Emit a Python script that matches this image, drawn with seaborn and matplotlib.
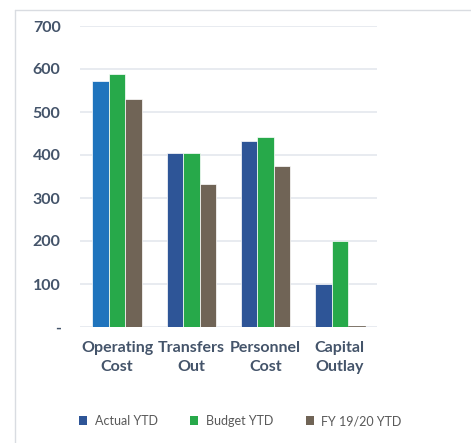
import pandas as pd
import matplotlib.pyplot as plt
import seaborn as sns
from matplotlib.patches import Patch
from matplotlib.lines import Line2D

categories = ["Operating\nCost", "Transfers\nOut", "Personnel\nCost", "Capital\nOutlay"]
series = ["Actual YTD", "Budget YTD", "FY 19/20 YTD"]
actual_ytd = [572, 405, 433, 101]
budget_ytd = [588, 405, 443, 201]
fy1920_ytd = [530, 332, 375, 3]
y_ticks = [0, 100, 200, 300, 400, 500, 600, 700]
y_labels = ["-", "100", "200", "300", "400", "500", "600", "700"]

colors = ["#2E5597", "#27A94A", "#706456"]
first_bar_color = "#1F74BD"
text_color = "#44546A"

df = pd.DataFrame({
    "category": categories * 3,
    "series": [s for s in series for _ in categories],
    "value": actual_ytd + budget_ytd + fy1920_ytd,
})

sns.set_theme(style="white")
plt.rcParams["font.family"] = ["Lato", "DejaVu Sans"]

fig = plt.figure(figsize=(4.71, 4.43), dpi=100)
ax = fig.add_axes([80 / 471, 1 - 327 / 443, 297 / 471, 301 / 443])

sns.barplot(data=df, x="category", y="value", hue="series", palette=colors,
            saturation=1, width=0.67, edgecolor="white", linewidth=0.5,
            legend=False, ax=ax)

# the first actual bar is drawn in a lighter blue in the original
ax.patches[0].set_facecolor(first_bar_color)
# keep the very small bar visible
for p in ax.patches:
    if p.get_height() < 10:
        p.set_edgecolor(p.get_facecolor())

ax.set_ylim(0, 700)
ax.set_yticks(y_ticks)
ax.set_yticklabels(y_labels)
ax.yaxis.grid(True, color="#E4E8EE", linewidth=1.2)
ax.set_axisbelow(True)
for s in ax.spines.values():
    s.set_visible(False)
ax.set_xlabel("")
ax.set_ylabel("")
ax.tick_params(axis="both", length=0, colors=text_color)
ax.tick_params(axis="y", pad=14)
ax.tick_params(axis="x", pad=10)
for lab in ax.get_yticklabels():
    lab.set_fontweight("bold")
    lab.set_fontsize(11.5)
for lab in ax.get_xticklabels():
    lab.set_fontweight("bold")
    lab.set_fontsize(11.5)
    lab.set_linespacing(1.45)

handles = [Patch(facecolor=c, edgecolor="none", label=s) for c, s in zip(colors, series)]
leg = fig.legend(handles=handles, loc="center", bbox_to_anchor=(0.51, 1 - 421 / 443),
                 ncol=3, frameon=False, fontsize=9, handlelength=0.65, handleheight=0.65,
                 handletextpad=0.6, columnspacing=2.6)
for t in leg.get_texts():
    t.set_color("#595959")

# outer chart frame (top and left edges visible)
fig.add_artist(Line2D([15 / 471, 1], [1 - 10 / 443] * 2, transform=fig.transFigure,
                      color="#D9DCE1", linewidth=1))
fig.add_artist(Line2D([15 / 471] * 2, [0, 1 - 10 / 443], transform=fig.transFigure,
                      color="#D9DCE1", linewidth=1))

fig.savefig("out.png", dpi=100)
